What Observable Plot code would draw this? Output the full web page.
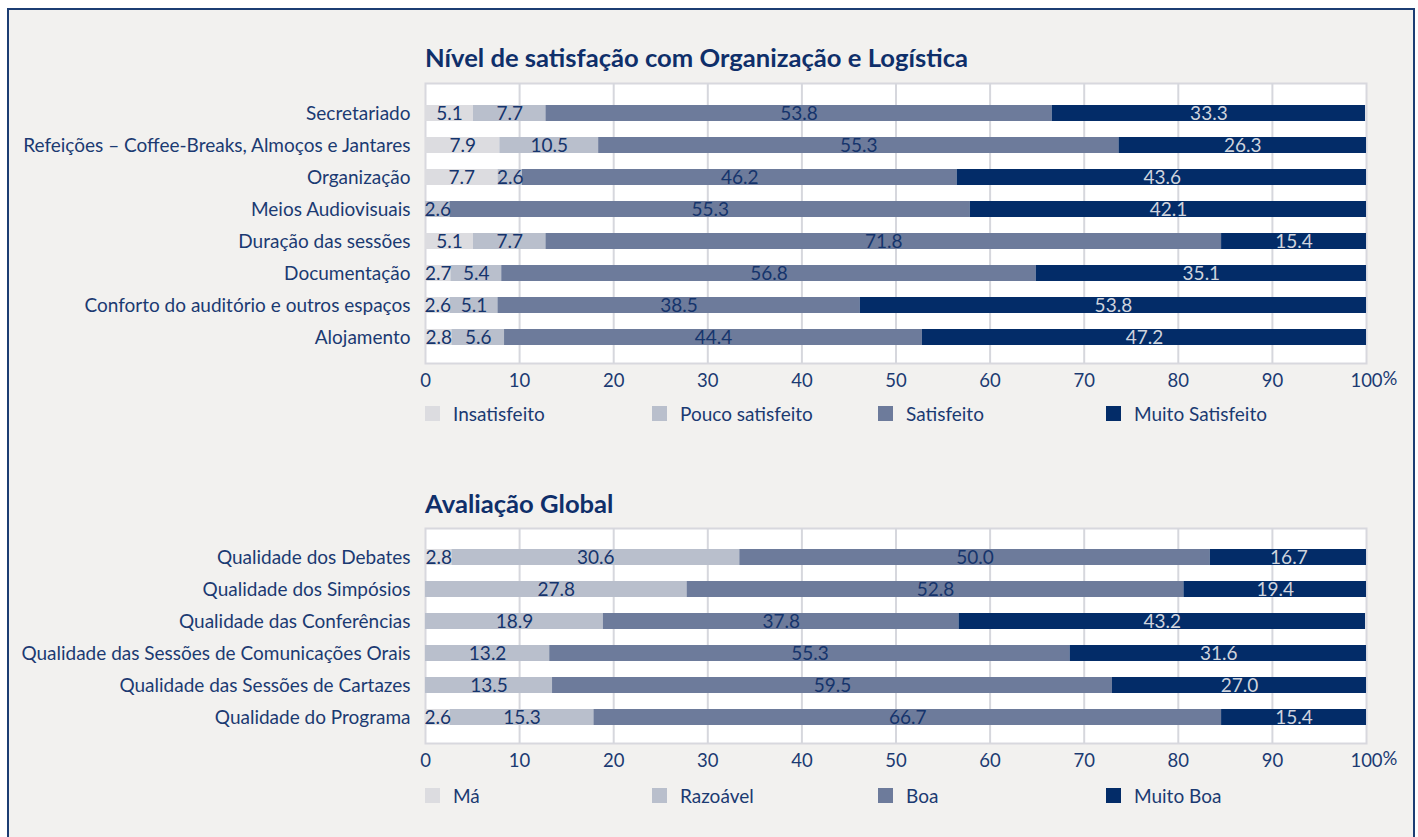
<!DOCTYPE html>
<html>
<head>
<meta charset="utf-8">
<script src="https://cdn.jsdelivr.net/npm/d3@7"></script>
<script src="https://cdn.jsdelivr.net/npm/@observablehq/plot@0.6"></script>
<style>
  html, body { margin: 0; padding: 0; background: #ffffff; }
  body { width: 1418px; height: 837px; position: relative; overflow: hidden; font-family: Lato, "Open Sans", sans-serif; }
  #frame { position: absolute; left: 7px; top: 8px; width: 1404px; height: 840px; border: 2px solid #1c3d73; background: #f2f1ef; }
  .title { position: absolute; left: 425px; font-weight: bold; font-size: 25.6px; color: #0f2f6a; line-height: 1; white-space: nowrap; }
  .chart { position: absolute; left: 0; }
  .legend-item { position: absolute; font-size: 19px; color: #1b3a72; line-height: 1; white-space: nowrap; }
  .legend-item .sw { position: absolute; width: 15px; height: 15px; left: 0; top: 2px; }
  .legend-item .lb { position: absolute; left: 28px; top: 0; }
  svg g[aria-label^="y-axis"] text { font-size: 19px; }
</style>
</head>
<body>
<div id="frame"></div>
<div class="title" id="t1" style="top:45px">Nível de satisfação com Organização e Logística</div>
<div class="title" id="t2" style="top:491px">Avaliação Global</div>
<div id="c1" class="chart"></div>
<div id="c2" class="chart"></div>
<div id="l1"></div>
<div id="l2"></div>
<script>
// ---------- DATA ----------
const xTicks = [0, 10, 20, 30, 40, 50, 60, 70, 80, 90, 100];

const cats1 = [
  "Secretariado",
  "Refeições – Coffee-Breaks, Almoços e Jantares",
  "Organização",
  "Meios Audiovisuais",
  "Duração das sessões",
  "Documentação",
  "Conforto do auditório e outros espaços",
  "Alojamento"
];
const levels1 = ["Insatisfeito", "Pouco satisfeito", "Satisfeito", "Muito Satisfeito"];
const insatisfeito    = [5.1, 7.9, 7.7, 0,   5.1, 2.7, 2.6, 2.8];
const poucoSatisfeito = [7.7, 10.5, 2.6, 2.6, 7.7, 5.4, 5.1, 5.6];
const satisfeito      = [53.8, 55.3, 46.2, 55.3, 71.8, 56.8, 38.5, 44.4];
const muitoSatisfeito = [33.3, 26.3, 43.6, 42.1, 15.4, 35.1, 53.8, 47.2];

const cats2 = [
  "Qualidade dos Debates",
  "Qualidade dos Simpósios",
  "Qualidade das Conferências",
  "Qualidade das Sessões de Comunicações Orais",
  "Qualidade das Sessões de Cartazes",
  "Qualidade do Programa"
];
const levels2 = ["Má", "Razoável", "Boa", "Muito Boa"];
const ma       = [2.8, 0, 0, 0, 0, 2.6];
const razoavel = [30.6, 27.8, 18.9, 13.2, 13.5, 15.3];
const boa      = [50.0, 52.8, 37.8, 55.3, 59.5, 66.7];
const muitoBoa = [16.7, 19.4, 43.2, 31.6, 27.0, 15.4];

const palette = ["#dcdce0", "#b9bfcc", "#6d7b9b", "#032c68"];
const darkText = "#15346c";
const lightText = "#cfd4de";

// ---------- BUILD ----------
function toLong(cats, levels, series) {
  const rows = [];
  cats.forEach((c, i) => {
    levels.forEach((l, j) => rows.push({cat: c, level: l, value: series[j][i]}));
  });
  return rows;
}

function panel({cats, levels, series, H, padTop, padBottom}) {
  const data = toLong(cats, levels, series);
  const m = 2, mb = 45, bw = 16;
  const last = levels[levels.length - 1];
  const fmt = v => v.toFixed(1);
  return Plot.plot({
    width: 1418,
    height: m + H + mb,
    marginTop: m,
    marginBottom: mb,
    marginLeft: 425,
    marginRight: 52,
    style: {fontFamily: "Lato, 'Open Sans', sans-serif", fontSize: "18.5px", color: "#1b3a72", background: "transparent", overflow: "visible"},
    x: {domain: [0, 100], ticks: xTicks, tickFormat: d => String(d), tickSize: 0, tickPadding: 10, label: null},
    y: {domain: cats, range: [m + padTop - bw / 2, m + H - padBottom + bw / 2], paddingInner: 0.5, paddingOuter: 0, tickSize: 0, tickPadding: 15, label: null},
    color: {domain: levels, range: palette},
    marks: [
      Plot.frame({fill: "white", stroke: "#d8d8de", strokeWidth: 2}),
      Plot.ruleX(xTicks.filter(t => t > 0 && t < 100), {stroke: "#d6d7dd", strokeWidth: 2}),
      Plot.barX(data, Plot.stackX({x: "value", y: "cat", fill: "level", clip: true})),
      Plot.text(data, Plot.stackX({x: "value", y: "cat", z: "level",
        text: d => (d.level !== last && d.value > 0) ? fmt(d.value) : null,
        fill: darkText, fontSize: 19})),
      Plot.text(data, Plot.stackX({x: "value", y: "cat", z: "level",
        text: d => (d.level === last && d.value > 0) ? fmt(d.value) : null,
        fill: lightText, fontSize: 19})),
      Plot.text(["%"], {text: d => d, frameAnchor: "bottom-right", textAnchor: "start", dx: 16, dy: 21, fill: "#1b3a72", fontSize: 18.5})
    ]
  });
}

function legend(el, levels, top) {
  const xs = [425, 652, 878, 1106];
  levels.forEach((l, i) => {
    const d = document.createElement("div");
    d.className = "legend-item";
    d.style.left = xs[i] + "px";
    d.style.top = top + "px";
    d.innerHTML = `<span class="sw" style="background:${palette[i]}"></span><span class="lb">${l}</span>`;
    el.appendChild(d);
  });
}

const p1Top = 83, p1H = 280;
const c1 = document.getElementById("c1");
c1.style.top = (p1Top - 2) + "px";
c1.appendChild(panel({cats: cats1, levels: levels1,
  series: [insatisfeito, poucoSatisfeito, satisfeito, muitoSatisfeito],
  H: p1H, padTop: 27.5, padBottom: 24}));

const p2Top = 528, p2H = 215;
const c2 = document.getElementById("c2");
c2.style.top = (p2Top - 2) + "px";
c2.appendChild(panel({cats: cats2, levels: levels2,
  series: [ma, razoavel, boa, muitoBoa],
  H: p2H, padTop: 27, padBottom: 25}));

legend(document.getElementById("l1"), levels1, 404);
legend(document.getElementById("l2"), levels2, 786);
</script>
</body>
</html>
